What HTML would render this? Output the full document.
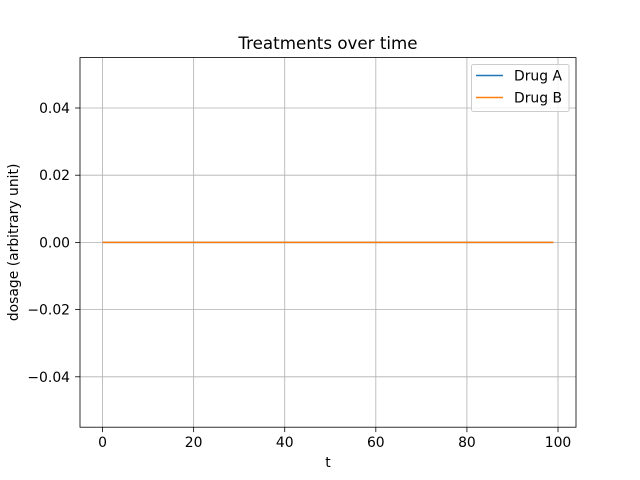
<!DOCTYPE html>
<html><head><meta charset="utf-8"><style>
html,body{margin:0;padding:0;background:#fff;}
svg{display:block;font-family:"DejaVu Sans","Liberation Sans",sans-serif;}
</style></head><body>
<svg id="chart" width="640" height="480" viewBox="0 0 640 480">
<rect width="640" height="480" fill="#fff"/>
<g id="grid"></g>
<g id="series"></g>
<rect x="80" y="57.6" width="496" height="369.6" fill="none" stroke="#000" stroke-width="0.8"/>
<g id="ticks"></g>
<text x="328" y="49" text-anchor="middle" font-size="16.7">Treatments over time</text>
<text x="328" y="467" text-anchor="middle" font-size="13.9">t</text>
<text transform="translate(18,242.4) rotate(-90)" text-anchor="middle" font-size="13.9">dosage (arbitrary unit)</text>
<g>
<rect x="471.5" y="64.5" width="97.5" height="47" rx="2" fill="#fff" fill-opacity="0.8" stroke="#ccc" stroke-width="1"/>
<line x1="476" y1="75.5" x2="503" y2="75.5" stroke="#1f77b4" stroke-width="1.5"/>
<text x="514" y="80.5" font-size="13.9">Drug A</text>
<line x1="476" y1="97.5" x2="503" y2="97.5" stroke="#ff7f0e" stroke-width="1.5"/>
<text x="514" y="102.5" font-size="13.9">Drug B</text>
</g>
</svg>
<script>
const tValues = Array.from({length:100},(_,i)=>i);
const drugA = [0,0,0,0,0,0,0,0,0,0,0,0,0,0,0,0,0,0,0,0,0,0,0,0,0,0,0,0,0,0,0,0,0,0,0,0,0,0,0,0,0,0,0,0,0,0,0,0,0,0,0,0,0,0,0,0,0,0,0,0,0,0,0,0,0,0,0,0,0,0,0,0,0,0,0,0,0,0,0,0,0,0,0,0,0,0,0,0,0,0,0,0,0,0,0,0,0,0,0,0];
const drugB = [0,0,0,0,0,0,0,0,0,0,0,0,0,0,0,0,0,0,0,0,0,0,0,0,0,0,0,0,0,0,0,0,0,0,0,0,0,0,0,0,0,0,0,0,0,0,0,0,0,0,0,0,0,0,0,0,0,0,0,0,0,0,0,0,0,0,0,0,0,0,0,0,0,0,0,0,0,0,0,0,0,0,0,0,0,0,0,0,0,0,0,0,0,0,0,0,0,0,0,0];
const xTicks = [0,20,40,60,80,100];
const yTicks = [-0.04,-0.02,0.00,0.02,0.04];
const yTickLabels = ["\u22120.04","\u22120.02","0.00","0.02","0.04"];

const NS="http://www.w3.org/2000/svg";
const L=80,R=576,T=57.6,B=427.2;
const xmin=-4.95,xmax=103.95,ymin=-0.055,ymax=0.055;
const sx=v=>L+(v-xmin)/(xmax-xmin)*(R-L);
const sy=v=>B-(v-ymin)/(ymax-ymin)*(B-T);
function mk(tag,attrs,parent){const e=document.createElementNS(NS,tag);for(const k in attrs)e.setAttribute(k,attrs[k]);parent.appendChild(e);return e;}
const grid=document.getElementById('grid'),ticks=document.getElementById('ticks'),series=document.getElementById('series');
xTicks.forEach(v=>{
  const x=sx(v);
  const g=mk('line',{x1:x,x2:x,y1:T,y2:B,stroke:'#b0b0b0','stroke-width':0.8},grid);
  
  
  const t=mk('line',{x1:x,x2:x,y1:B,y2:B+4.9,stroke:'#000','stroke-width':0.8},ticks);
  
  
  const l=mk('text',{x:x,y:B+20,'text-anchor':'middle','font-size':13.9},ticks);
  l.textContent=String(v);
  
  
});
yTicks.forEach((v,i)=>{
  const y=sy(v);
  const g=mk('line',{x1:L,x2:R,y1:y,y2:y,stroke:'#b0b0b0','stroke-width':0.8},grid);
  
  
  const t=mk('line',{x1:L-4.9,x2:L,y1:y,y2:y,stroke:'#000','stroke-width':0.8},ticks);
  
  
  const l=mk('text',{x:L-10,y:y+5,'text-anchor':'end','font-size':13.9},ticks);
  l.textContent=yTickLabels[i];
  
  
});
function line(vals,color,name){
  const d=vals.map((v,i)=>(i?'L':'M')+sx(tValues[i])+','+sy(v)).join('');
  const p=mk('path',{d:d,fill:'none',stroke:color,'stroke-width':1.5},series);
  
  
}
line(drugA,'#1f77b4','line-drug-a');
line(drugB,'#ff7f0e','line-drug-b');
</script>
</body></html>
